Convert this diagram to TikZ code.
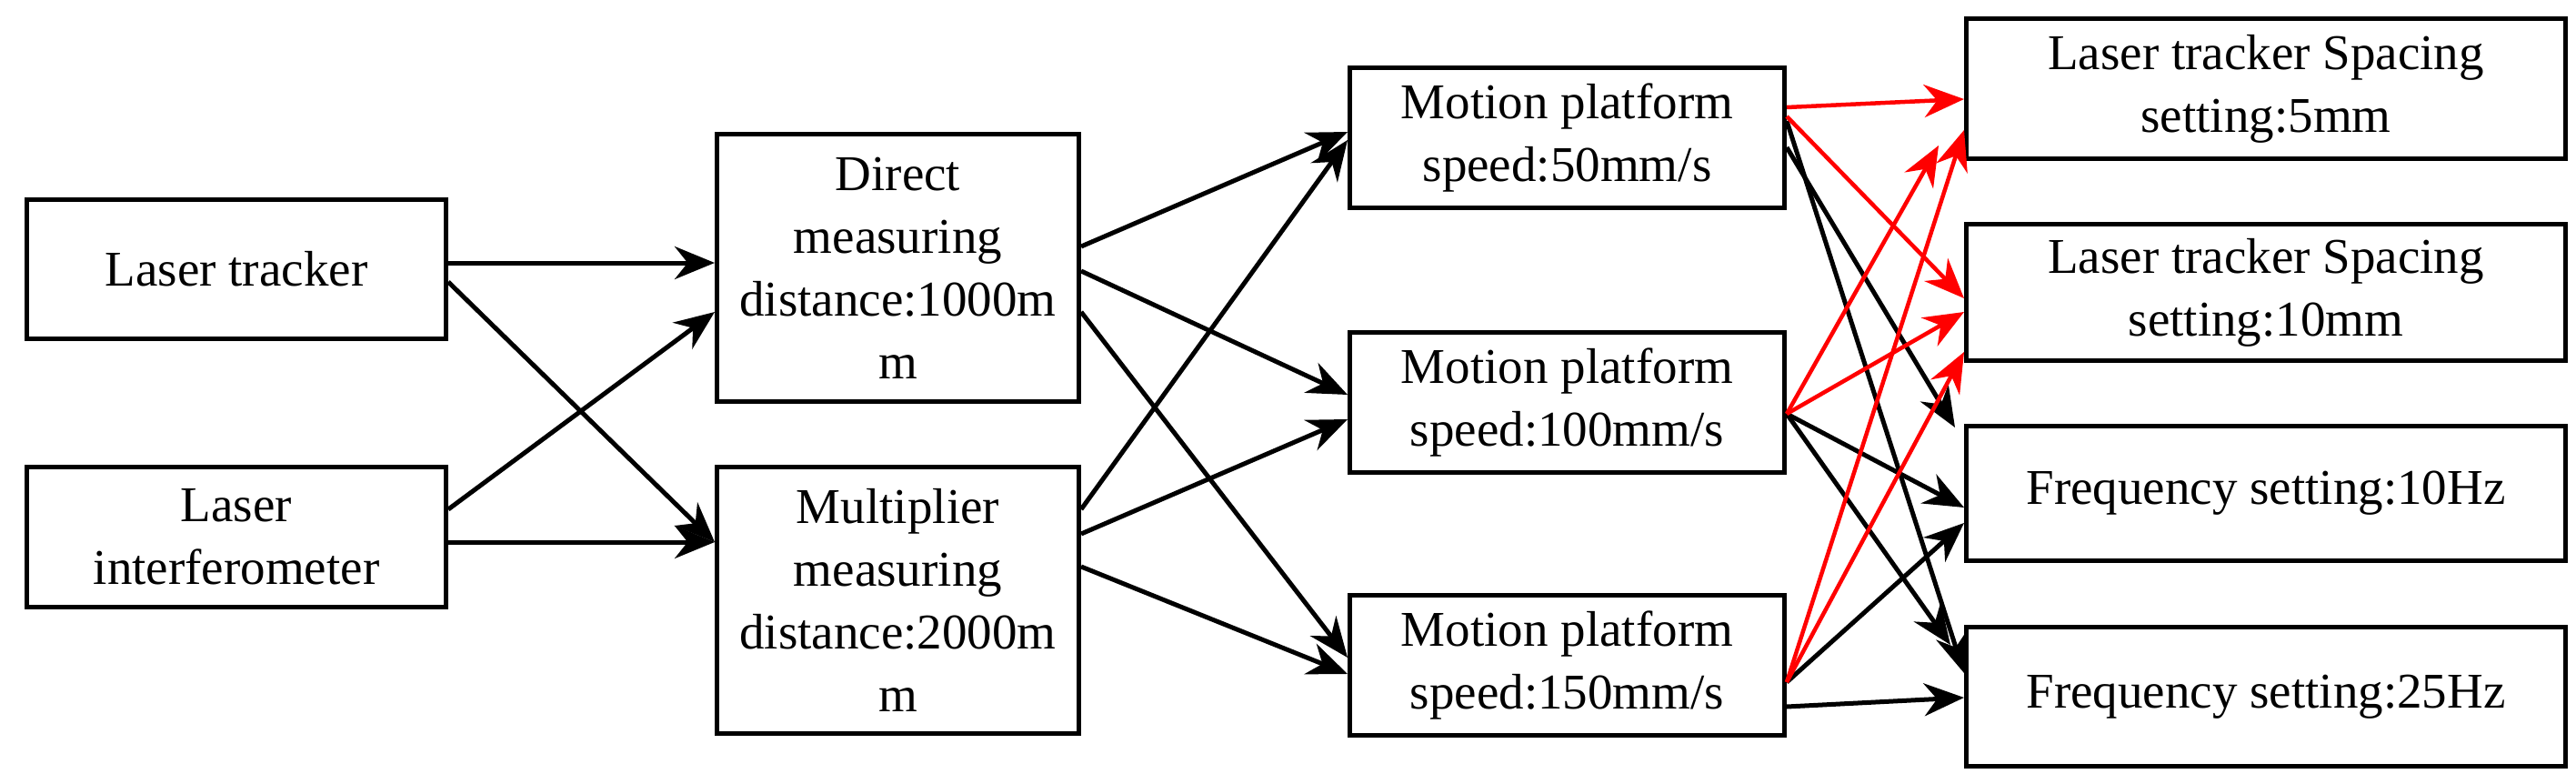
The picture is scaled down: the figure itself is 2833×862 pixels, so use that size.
\documentclass[tikz,border=0pt]{standalone}
\usepackage{fontspec}
\setmainfont{Liberation Serif}
\usetikzlibrary{arrows.meta}
\begin{document}
\begin{tikzpicture}[x=1pt,y=-1pt,
  box/.style={draw,line width=5pt,anchor=north west,align=center,inner sep=0pt,
    font=\fontsize{55}{69}\selectfont},
  ar/.style={line width=5pt,-{Stealth[length=44pt,width=36pt]}},
  rr/.style={ar,red,line width=4.5pt}]
\useasboundingbox (0,0) rectangle (2833,862);
\node[box,minimum width=461,minimum height=153] (lt) at (27,217) {Laser tracker};
\node[box,minimum width=461,minimum height=154] (li) at (27,511) {Laser\\interferometer};
\node[box,minimum width=398,minimum height=294] (dm) at (786,145) {Direct\\measuring\\distance:1000m\\m};
\node[box,minimum width=398,minimum height=293] (mm) at (786,511) {Multiplier\\measuring\\distance:2000m\\m};
\node[box,minimum width=478,minimum height=154] (m1) at (1482,72) {Motion platform\\speed:50mm/s};
\node[box,minimum width=478,minimum height=154] (m2) at (1482,363) {Motion platform\\speed:100mm/s};
\node[box,minimum width=478,minimum height=154] (m3) at (1482,652) {Motion platform\\speed:150mm/s};
\node[box,minimum width=659,minimum height=154] (s5) at (2160,18) {Laser tracker Spacing\\setting:5mm};
\node[box,minimum width=659,minimum height=150] (s10) at (2160,244) {Laser tracker Spacing\\setting:10mm};
\node[box,minimum width=659,minimum height=148] (f10) at (2160,466) {Frequency setting:10Hz};
\node[box,minimum width=659,minimum height=153] (f25) at (2160,687) {Frequency setting:25Hz};
% left
\draw[ar] ([yshift=-72]lt.north east) -- ([yshift=-144]dm.north west);
\draw[ar] ([yshift=-93]lt.north east) -- ([yshift=-85]mm.north west);
\draw[ar] ([yshift=-49]li.north east) -- ([yshift=-198]dm.north west);
\draw[ar] ([yshift=-85]li.north east) -- ([yshift=-85]mm.north west);
% middle
\draw[ar] ([yshift=-126]dm.north east) -- ([yshift=-73]m1.north west);
\draw[ar] ([yshift=-153]dm.north east) -- ([yshift=-71]m2.north west);
\draw[ar] ([yshift=-198]dm.north east) -- ([yshift=-71]m3.north west);
\draw[ar] ([yshift=-49]mm.north east) -- ([yshift=-82]m1.north west);
\draw[ar] ([yshift=-76]mm.north east) -- ([yshift=-98]m2.north west);
\draw[ar] ([yshift=-112]mm.north east) -- ([yshift=-89]m3.north west);
% right
\draw[ar] ([yshift=-90]m1.north east) -- ([xshift=-10,yshift=-4]f10.north west);
\draw[ar] ([yshift=-61]m1.north east) -- ([yshift=-53]f25.north west);
\draw[ar] ([yshift=-92]m2.north east) -- ([yshift=-92]f10.north west);
\draw[ar] ([yshift=-92]m2.north east) -- ([xshift=-15,yshift=-22]f25.north west);
\draw[ar] ([yshift=-98]m3.north east) -- ([yshift=-109]f10.north west);
\draw[ar] ([yshift=-125]m3.north east) -- ([yshift=-80]f25.north west);
\draw[rr] ([yshift=-46]m1.north east) -- ([yshift=-91]s5.north west);
\draw[rr] ([yshift=-56]m1.north east) -- ([yshift=-84]s10.north west);
\draw[rr] ([yshift=-92]m2.north east) -- ([xshift=-28,yshift=-142]s5.north west);
\draw[rr] ([yshift=-92]m2.north east) -- ([yshift=-99]s10.north west);
\draw[rr] ([yshift=-98]m3.north east) -- ([yshift=-125]s5.north west);
\draw[rr] ([yshift=-98]m3.north east) -- ([yshift=-143]s10.north west);
\end{tikzpicture}
\end{document}
